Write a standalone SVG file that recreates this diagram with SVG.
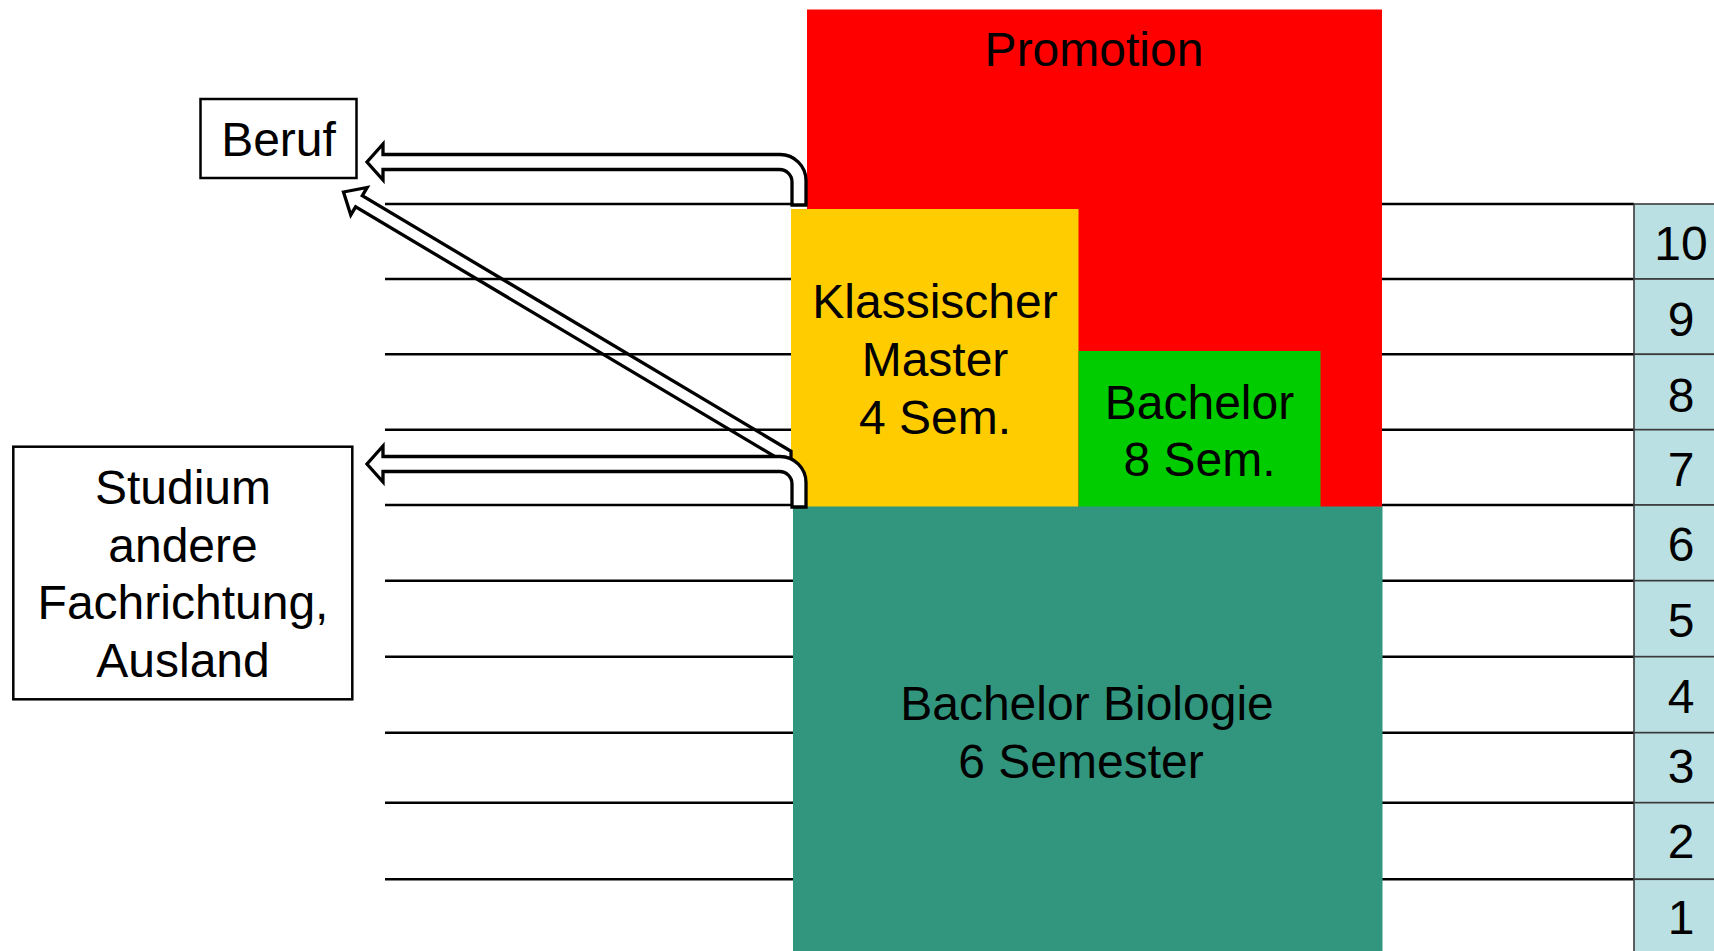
<svg xmlns="http://www.w3.org/2000/svg" width="1714" height="951" viewBox="0 0 1714 951">
<style>
  .t { font-family: "Liberation Sans", Arial, sans-serif; font-size: 48px; fill: #000; text-anchor: middle; }
  .grid { stroke: #000; stroke-width: 2.6; fill: none; }
  .box { fill: #fff; stroke: #000; stroke-width: 2.5; }
  .cell { fill: #BBE0E3; stroke: #3a3a3a; stroke-width: 1.6; }
  .arrow { fill: #fff; stroke: #000; stroke-width: 3.3; stroke-linejoin: miter; }
  .darrow { fill: none; stroke: #000; stroke-width: 3.3; stroke-linejoin: miter; }
</style>
<rect width="1714" height="951" fill="#fff"/>

<g id="grid-lines">
  <path class="grid" d="M385 204H800M385 279H800M385 354.3H800M385 429.7H800M385 505H800M385 580.7H800M385 656.7H800M385 732.7H800M385 802.7H800M385 879.3H800"/>
  <path class="grid" d="M1380 204H1634M1380 279H1634M1380 354.3H1634M1380 429.7H1634M1380 505H1634M1380 580.7H1634M1380 656.7H1634M1380 732.7H1634M1380 802.7H1634M1380 879.3H1634"/>
</g>

<g id="promotion">
  <rect x="807" y="9.5" width="575" height="498" fill="#FF0000"/>
  <text class="t" x="1094" y="66">Promotion</text>
</g>

<g id="klassischer-master">
  <rect x="791" y="209" width="287.5" height="298" fill="#FFCC00"/>
  <text class="t" x="935" y="318">Klassischer</text>
  <text class="t" x="935" y="376">Master</text>
  <text class="t" x="935" y="433.5">4 Sem.</text>
</g>

<g id="bachelor-8">
  <rect x="1078.5" y="351" width="242" height="156" fill="#00CC00"/>
  <text class="t" x="1199.5" y="418.5">Bachelor</text>
  <text class="t" x="1199.5" y="476">8 Sem.</text>
</g>

<g id="bachelor-biologie">
  <rect x="793" y="506.5" width="589.5" height="445" fill="#32967E"/>
  <text class="t" x="1087" y="720">Bachelor Biologie</text>
  <text class="t" x="1081" y="777.5">6 Semester</text>
</g>

<g id="semester-scale">
  <rect class="cell" x="1634" y="204" width="100" height="75"/>
  <rect class="cell" x="1634" y="279" width="100" height="75.3"/>
  <rect class="cell" x="1634" y="354.3" width="100" height="75.4"/>
  <rect class="cell" x="1634" y="429.7" width="100" height="75.3"/>
  <rect class="cell" x="1634" y="505" width="100" height="75.7"/>
  <rect class="cell" x="1634" y="580.7" width="100" height="76"/>
  <rect class="cell" x="1634" y="656.7" width="100" height="76"/>
  <rect class="cell" x="1634" y="732.7" width="100" height="70"/>
  <rect class="cell" x="1634" y="802.7" width="100" height="76.6"/>
  <rect class="cell" x="1634" y="879.3" width="100" height="80"/>
  <text class="t" x="1681" y="260">10</text>
  <text class="t" x="1681" y="335.7">9</text>
  <text class="t" x="1681" y="411.5">8</text>
  <text class="t" x="1681" y="485.7">7</text>
  <text class="t" x="1681" y="561">6</text>
  <text class="t" x="1681" y="637.3">5</text>
  <text class="t" x="1681" y="713.3">4</text>
  <text class="t" x="1681" y="782.7">3</text>
  <text class="t" x="1681" y="858.3">2</text>
  <text class="t" x="1681" y="934">1</text>
</g>

<g id="beruf">
  <rect class="box" x="200.5" y="99" width="156" height="79"/>
  <text class="t" x="278.5" y="156">Beruf</text>
</g>

<g id="studium-andere">
  <rect class="box" x="13.3" y="446.7" width="339" height="252.6"/>
  <text class="t" x="183" y="504">Studium</text>
  <text class="t" x="183" y="561.5">andere</text>
  <text class="t" x="183" y="619">Fachrichtung,</text>
  <text class="t" x="183" y="676.5">Ausland</text>
</g>

<g id="connectors">
  <polygon class="darrow" points="343.5,192 367.15,187.48 362.29,195.64 791,451.3 791,466.2 355.63,206.80 350.77,214.96"/>
  <path id="arrow-beruf" class="arrow" d="M792 205V182A12.5 12.5 0 0 0 779.5 169.5H383V180L367 162L383 144V154.5H780A26 26 0 0 1 806 180.5V205Z"/>
  <path id="arrow-studium" class="arrow" transform="translate(0,302)" d="M792 205V182A12.5 12.5 0 0 0 779.5 169.5H383V180L367 162L383 144V154.5H780A26 26 0 0 1 806 180.5V205Z"/>
</g>
</svg>
